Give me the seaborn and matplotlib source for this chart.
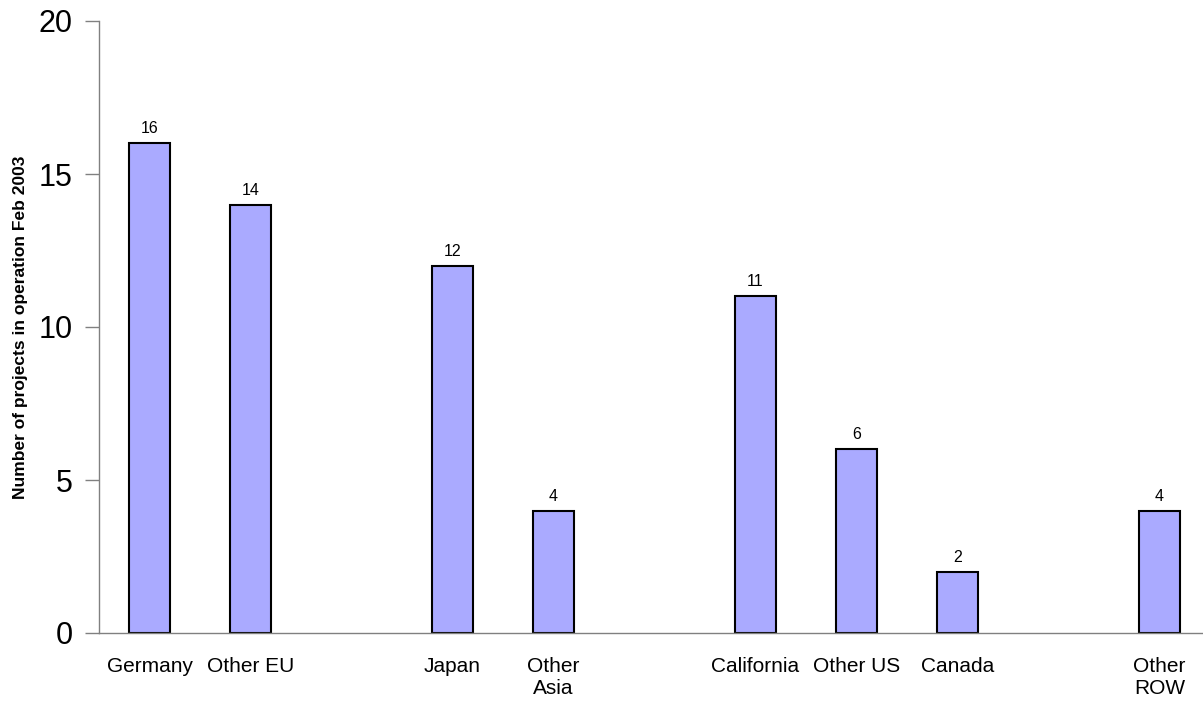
import numpy as np
import matplotlib
matplotlib.use('Agg')
import matplotlib.pyplot as plt
import pandas as pd
import seaborn as sns

# data (projects in operation, Feb 2003)
regions = ['Germany', 'Other EU', 'Japan', 'Other Asia', 'California', 'Other US', 'Canada', 'Other ROW']
projects = [16, 14, 12, 4, 11, 6, 2, 4]

# slot order on the axis, with empty gaps between the groups
slot_order = ['Germany', 'Other EU', 'gap1', 'Japan', 'Other Asia', 'gap2',
              'California', 'Other US', 'Canada', 'gap3', 'Other ROW']
slot_labels = ['Germany', 'Other EU', '', 'Japan', 'Other\nAsia', '',
               'California', 'Other US', 'Canada', '', 'Other\nROW']

df = pd.DataFrame({'Region': regions, 'Projects': projects})

sns.set_style('white')
plt.rcParams['font.family'] = ['Liberation Sans', 'DejaVu Sans']
plt.rcParams['text.color'] = 'black'
plt.rcParams['axes.labelcolor'] = 'black'
plt.rcParams['xtick.labelcolor'] = 'black'
plt.rcParams['ytick.labelcolor'] = 'black'

fig = plt.figure(figsize=(12.03, 7.05), dpi=100)
ax = fig.add_axes([99 / 1203, 72 / 705, 1104 / 1203, 612 / 705])

sns.barplot(data=df, x='Region', y='Projects', order=slot_order, color='#AAAAFF',
            saturation=1, width=0.41, edgecolor='black', linewidth=1.5, ax=ax)

ax.bar_label(ax.containers[0], fmt='%d', padding=5, fontsize=11.5, color='black')

ax.set_yticks([0, 5, 10, 15, 20])

# labels centred on categories, tick marks between them (Excel style)
ax.set_xticks(range(len(slot_order)))
ax.set_xticklabels(slot_labels, fontsize=15)
ax.set_xticks(np.arange(-0.5, 11, 1), minor=True)
ax.tick_params(axis='x', which='major', length=0, pad=17)
ax.tick_params(axis='x', which='minor', length=7, width=1, color='#808080', direction='out')
ax.tick_params(axis='y', labelsize=22, length=10, width=1, color='#808080', direction='out', pad=9, left=True)

# limits last, so the minor ticks do not widen the view
ax.set_xlim(-0.5, 10.43)
ax.set_ylim(0, 20)

ax.set_xlabel('')
ax.set_ylabel('Number of projects in operation Feb 2003', fontsize=12.5, fontweight='bold')
ax.yaxis.set_label_coords(-0.064, 0.5)

sns.despine(ax=ax)
for side in ['left', 'bottom']:
    ax.spines[side].set_color('#808080')
    ax.spines[side].set_linewidth(1)

plt.savefig('out.png', dpi=100)
